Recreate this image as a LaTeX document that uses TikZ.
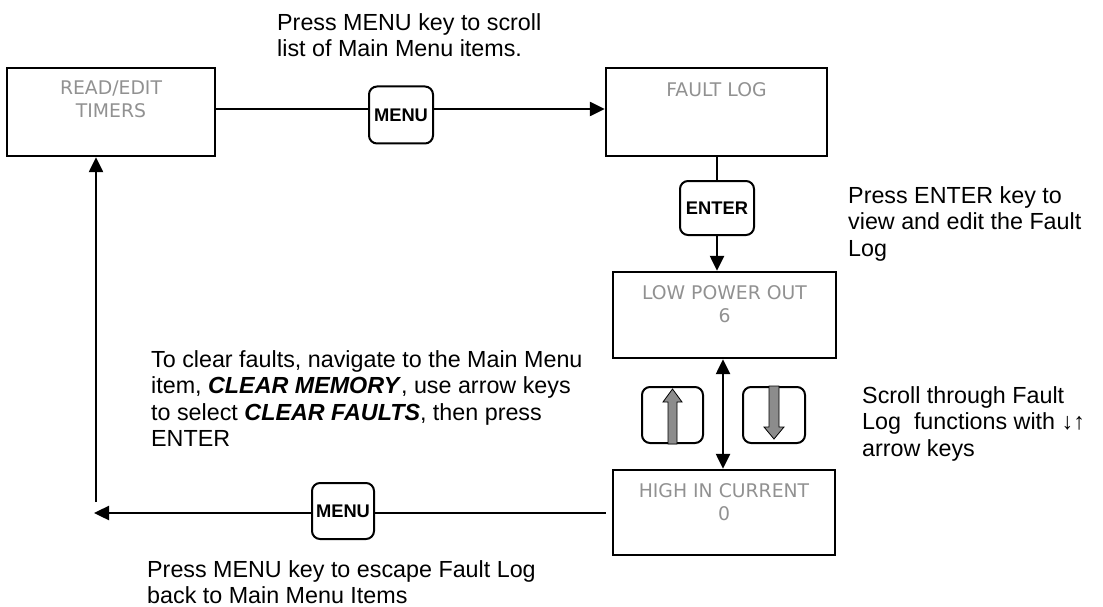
\documentclass[tikz,border=0pt]{standalone}
\usepackage{fontspec}
\setmainfont{Liberation Sans}
\newfontfamily\boxfont{DejaVu Sans}
\usetikzlibrary{arrows.meta}
\definecolor{lcdgray}{RGB}{145,145,145}
\definecolor{keygray}{RGB}{140,140,140}
\begin{document}
\begin{tikzpicture}[x=1pt,y=-1pt,
  lcd/.style={draw, line width=2.4pt, rectangle, inner sep=0pt},
  lcdtext/.style={text=lcdgray, font=\boxfont\fontsize{18.8}{23}\selectfont, align=center, anchor=north, inner sep=0pt},
  keybox/.style={draw, line width=2pt, rounded corners=8pt, rectangle, inner sep=0pt,
     font=\bfseries\fontsize{18.3}{20}\selectfont},
  note/.style={font=\fontsize{23.3}{26.5}\selectfont, align=left, anchor=north west, inner sep=0pt},
  conn/.style={line width=2.4pt},
  arr/.style={conn, -{Triangle[length=15pt,width=14pt]}},
  darr/.style={conn, {Triangle[length=15pt,width=14pt]}-{Triangle[length=15pt,width=14pt]}},
  keyarrow/.style={draw=black, line width=0.8pt, fill=keygray, line join=miter},
]
\useasboundingbox (0,0) rectangle (1103,607);

% LCD boxes
\node[lcd, minimum width=208pt, minimum height=88pt] (read) at (111,112) {};
\node[lcd, minimum width=221pt, minimum height=88pt] (fault) at (716.5,112) {};
\node[lcd, minimum width=223pt, minimum height=86pt] (low) at (724.5,315) {};
\node[lcd, minimum width=222pt, minimum height=85pt] (high) at (724,512.5) {};

\node[lcdtext] (readT) at (111,81) {READ/EDIT\\TIMERS};
\node[lcdtext] (faultT) at (716.5,82) {FAULT LOG};
\node[lcdtext] (lowT) at (724.5,285) {LOW POWER OUT\\6};
\node[lcdtext] (highT) at (724,483) {HIGH IN CURRENT\\0};

% keys
\node[keybox, minimum width=64pt, minimum height=57pt] (menu1) at (401,115) {MENU};
\node[keybox, minimum width=74pt, minimum height=54pt] (enter) at (717,208) {ENTER};
\node[keybox, minimum width=62pt, minimum height=56pt] (menu2) at (343,511) {MENU};
\node[keybox, minimum width=61pt, minimum height=56pt] (upkey) at (672.5,415) {};
\node[keybox, minimum width=62pt, minimum height=56pt] (downkey) at (774,415) {};

% arrows inside keys
\draw[keyarrow] ([xshift=-4.5pt]upkey.south) -- ++(0,-42) -- ++(-5,0) -- ++(9.5,-13) -- ++(9.5,13) -- ++(-5,0) -- ++(0,42) -- cycle;
\draw[keyarrow] ([xshift=-5pt]downkey.north) -- ++(0,41) -- ++(-5,0) -- ++(10,12) -- ++(10,-12) -- ++(-5,0) -- ++(0,-41) -- cycle;

% connectors
\coordinate (topline) at ([yshift=3pt]read.east);
\draw[conn] (topline) -- (topline -| menu1.west);
\draw[arr] (menu1.east |- topline) -- (fault.west |- topline);
\draw[conn] (fault.south -| enter) -- (enter.north);
\draw[arr] (enter.south) -- (enter.south |- low.north);
\draw[darr] ([xshift=-1.5pt]low.south) -- ([xshift=-1pt]high.north);
\coordinate (retend) at (94,513);
\draw[conn] ([xshift=-6pt]high.west |- retend) -- (menu2.east |- retend);
\draw[arr] (menu2.west |- retend) -- (retend);
\coordinate (retup) at (96,502);
\draw[arr] (retup) -- (retup |- read.south);

% notes
\node[note] (topnote) at (277,13) {Press MENU key to scroll\\list of Main Menu items.};
\node[note] (enternote) at (848,186) {Press ENTER key to\\view and edit the Fault\\Log};
\node[note] (scrollnote) at (862,386) {Scroll through Fault\\Log\ \ functions with ↓↑\\arrow keys};
\node[note] (clearnote) at (151,350) {To clear faults, navigate to the Main Menu\\item, \textbf{\textit{CLEAR MEMORY}}, use arrow keys\\to select \textbf{\textit{CLEAR FAULTS}}, then press\\ENTER};
\node[note] (escnote) at (147,560) {Press MENU key to escape Fault Log\\back to Main Menu Items};
\end{tikzpicture}
\end{document}
